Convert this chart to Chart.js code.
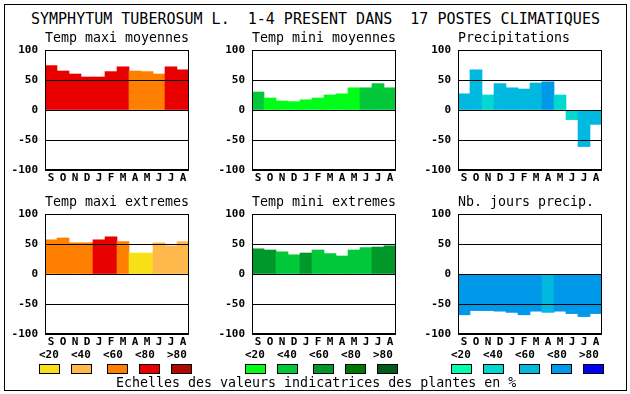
<!DOCTYPE html>
<html><head><meta charset="utf-8">
<script src="https://cdn.jsdelivr.net/npm/chart.js@4"></script>
<style>
body{margin:0;background:#fff;}
#wrap{position:relative;width:630px;height:394px;overflow:hidden;font-family:"DejaVu Sans Mono",monospace;color:#000;background:#fff;}
#frame{position:absolute;left:4px;top:4px;width:623px;height:387px;border:1px solid #000;box-sizing:border-box;}
canvas{position:absolute;}
.t{position:absolute;white-space:pre;}
.lab{font-weight:bold;font-size:11px;line-height:12px;top:349px;}
.box{position:absolute;top:364px;width:21px;height:10px;border:1px solid #000;box-sizing:border-box;}
</style>
</head><body>
<div id="wrap">
<div id="frame"></div>
<div class="t" style="left:31px;top:11px;font-size:15px;line-height:16px;">SYMPHYTUM TUBEROSUM L.  1-4 PRESENT DANS  17 POSTES CLIMATIQUES</div>
<canvas id="c1" width="190" height="162" style="left:5px;top:26px"></canvas>
<canvas id="c2" width="190" height="162" style="left:212px;top:26px"></canvas>
<canvas id="c3" width="190" height="162" style="left:418px;top:26px"></canvas>
<canvas id="c4" width="190" height="162" style="left:5px;top:190px"></canvas>
<canvas id="c5" width="190" height="162" style="left:212px;top:190px"></canvas>
<canvas id="c6" width="190" height="162" style="left:418px;top:190px"></canvas>
<div id="legend"></div>
<div class="t" style="left:116px;top:376px;font-size:13.3px;line-height:14px;">Echelles des valeurs indicatrices des plantes en %</div>
</div>
<script>
const months = ['S','O','N','D','J','F','M','A','M','J','J','A'];
const classLabels = ['<20','<40','<60','<80','>80'];
const yTicks = [-100,-50,0,50,100];

const tempPalette  = ['#f8e018','#ffb84c','#ff8000','#e80000','#b00800'];
const greenPalette = ['#00ff18','#00c838','#009828','#007800','#005c18'];
const bluePalette  = ['#00ffb0','#00d8d0','#00b8e0','#0098e8','#0000f8'];

const tmaxMoyValues = [74,65,60,55,55,64,72,65,64,60,72,67];
const tmaxMoyClass  = [3,3,3,3,3,3,3,2,2,2,3,3];
const tminMoyValues = [30,20,15,14,17,20,25,27,37,37,44,37];
const tminMoyClass  = [1,0,0,0,0,0,0,0,0,1,1,1];
const precValues    = [27,67,25,44,37,35,45,47,25,-16,-61,-24];
const precClass     = [2,2,1,2,2,2,2,3,1,1,2,2];
const tmaxExtValues = [57,60,52,52,57,62,54,35,35,52,47,54];
const tmaxExtClass  = [2,2,2,2,3,3,2,0,0,1,1,1];
const tminExtValues = [42,40,37,32,35,40,34,30,40,44,45,47];
const tminExtClass  = [2,2,1,1,2,1,1,1,1,1,2,2];
const joursValues   = [-68,-61,-61,-62,-64,-68,-62,-64,-62,-66,-71,-66];
const joursClass    = [3,3,3,3,3,3,3,2,3,3,3,3];

const FONT = 'DejaVu Sans Mono';

const framePlugin = {
  id:'frameBox',
  afterDraw(chart){
    const a = chart.chartArea, ctx = chart.ctx;
    ctx.save();
    ctx.strokeStyle = '#000'; ctx.lineWidth = 1;
    ctx.strokeRect(Math.round(a.left)+0.5, Math.round(a.top)+0.5, Math.round(a.right-a.left)-1, Math.round(a.bottom-a.top)-1);
    ctx.restore();
  }
};

function makeChart(id, title, values, classes, palette){
  new Chart(document.getElementById(id), {
    type:'bar',
    data:{labels:months, datasets:[{data:values, backgroundColor:classes.map(c=>palette[c]), borderWidth:0, barPercentage:1, categoryPercentage:1}]},
    options:{
      responsive:false, animation:false, devicePixelRatio:1,
      layout:{padding:{left:0,right:6,top:0,bottom:0}},
      plugins:{
        legend:{display:false}, tooltip:{enabled:false},
        title:{display:true, text:title, align:'start', fullSize:false, color:'#000',
          font:{family:FONT, size:13.3, weight:'normal', lineHeight:'14px'}, padding:{top:6,bottom:4}}
      },
      scales:{
        x:{offset:true, grid:{display:false, drawTicks:false}, border:{display:false},
           ticks:{color:'#000', font:{family:FONT, size:11, weight:'bold'}, padding:2, maxRotation:0, autoSkip:false},
           afterFit(s){ s.height = 18; }},
        y:{min:-100, max:100, afterBuildTicks(s){ s.ticks = yTicks.map(v=>({value:v})); },
           ticks:{color:'#000', font:{family:FONT, size:11, weight:'bold'}, padding:7},
           grid:{color:'#000', lineWidth:1, drawTicks:false, z:1}, border:{display:false},
           afterFit(s){ s.width = 40; }}
      }
    },
    plugins:[framePlugin]
  });
}

makeChart('c1','Temp maxi moyennes', tmaxMoyValues, tmaxMoyClass, tempPalette);
makeChart('c2','Temp mini moyennes', tminMoyValues, tminMoyClass, greenPalette);
makeChart('c3','Precipitations', precValues, precClass, bluePalette);
makeChart('c4','Temp maxi extremes', tmaxExtValues, tmaxExtClass, tempPalette);
makeChart('c5','Temp mini extremes', tminExtValues, tminExtClass, greenPalette);
makeChart('c6','Nb. jours precip.', joursValues, joursClass, bluePalette);

// legend scales
const legendGroups = [
  {palette:tempPalette,  labelX:[39,71,103,135,167], boxX:[39,71,107,139,171]},
  {palette:greenPalette, labelX:[245,277,309,341,373], boxX:[245,277,313,345,377]},
  {palette:bluePalette,  labelX:[451,483,515,547,579], boxX:[451,483,519,551,583]}
];
const lg = document.getElementById('legend');
legendGroups.forEach(g=>{
  classLabels.forEach((txt,i)=>{
    const s = document.createElement('div');
    s.className = 't lab'; s.style.left = g.labelX[i]+'px'; s.textContent = txt;
    lg.appendChild(s);
    const b = document.createElement('div');
    b.className = 'box'; b.style.left = g.boxX[i]+'px'; b.style.background = g.palette[i];
    lg.appendChild(b);
  });
});
</script>
</body></html>
